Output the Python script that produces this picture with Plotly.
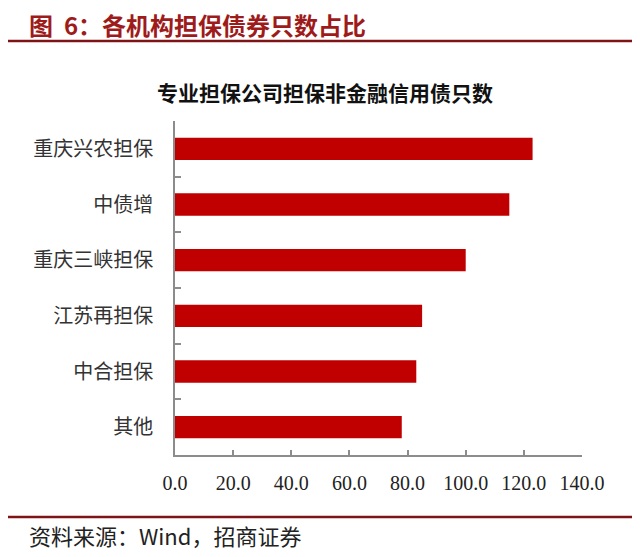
import plotly.graph_objects as go

# 数据
categories = ['重庆兴农担保', '中债增', '重庆三峡担保', '江苏再担保', '中合担保', '其他']
counts = [123, 115, 100, 85, 83, 78]
x_ticks = [0, 20, 40, 60, 80, 100, 120, 140]

header = '图  6：各机构担保债券只数占比'
chart_title = '专业担保公司担保非金融信用债只数'
source = '资料来源：Wind，招商证券'

# 页面 body 有 8px 边距，整体坐标减去 8
OFF = 8
W, H = 640 - OFF, 557 - OFF
L, R, T, B = 175 - OFF, 58, 121 - OFF, 102
pw, ph = W - L - R, H - T - B


def px(x):
    return (x - OFF - L) / pw


def py(y):
    return (H - B - (y - OFF)) / ph


fig = go.Figure(
    go.Bar(x=counts, y=categories, orientation='h',
           marker=dict(color='#C00000', line=dict(width=0)))
)

fig.update_layout(
    width=W, height=H,
    margin=dict(l=L, r=R, t=T, b=B),
    plot_bgcolor='white', paper_bgcolor='white',
    bargap=0.6,
    showlegend=False,
    font=dict(family='Noto Sans CJK SC', color='#222'),
)

fig.update_xaxes(
    range=[0, 140], tickvals=x_ticks, tickformat='.1f',
    showgrid=False, zeroline=False,
    showline=True, linecolor='#8c8c8c', linewidth=1.5,
    ticks='inside', ticklen=5, tickcolor='#8c8c8c', tickwidth=1.5,
    tickfont=dict(family='Liberation Serif', size=20, color='#222'),
    ticklabelstandoff=9,
)
fig.update_yaxes(
    categoryorder='array', categoryarray=categories, autorange='reversed',
    showgrid=False, zeroline=False,
    showline=True, linecolor='#8c8c8c', linewidth=1.5,
    ticks='inside', ticklen=6, tickcolor='#8c8c8c', tickwidth=1.5,
    tickson='boundaries',
    tickfont=dict(family='Noto Sans CJK SC', size=20, color='#333'),
    ticklabelstandoff=16,
)

# 页眉、标题、来源
fig.add_annotation(text=header, xref='paper', yref='paper',
                   x=px(27), y=py(25), xanchor='left', yanchor='middle',
                   showarrow=False,
                   font=dict(family='Noto Sans CJK SC', size=24, color='#9E1B1B', weight='bold'))
fig.add_annotation(text=chart_title, xref='paper', yref='paper',
                   x=px(325), y=py(92), xanchor='center', yanchor='middle',
                   showarrow=False,
                   font=dict(family='Noto Sans CJK SC', size=21, color='#111', weight='bold'))
fig.add_annotation(text=source, xref='paper', yref='paper',
                   x=px(27), y=py(535), xanchor='left', yanchor='middle',
                   showarrow=False,
                   font=dict(family='Noto Sans CJK SC', size=22, color='#222'))

fig.add_shape(type='line', xref='paper', yref='paper',
              x0=px(0), x1=px(636), y0=py(41), y1=py(41),
              line=dict(color='#7E1416', width=2.5))
fig.add_shape(type='line', xref='paper', yref='paper',
              x0=px(0), x1=px(636), y0=py(517), y1=py(517),
              line=dict(color='#7E1416', width=2.5))

fig.write_html('out.html')
